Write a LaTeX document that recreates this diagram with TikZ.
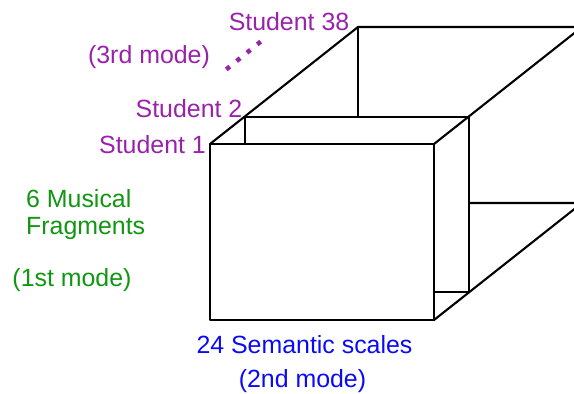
\documentclass[tikz,border=0pt]{standalone}
\usepackage{fontspec}
\setmainfont{Liberation Sans}
\definecolor{modepurple}{RGB}{153,34,170}
\definecolor{modegreen}{RGB}{17,150,17}
\definecolor{modeblue}{RGB}{10,10,245}
\begin{document}
\begin{tikzpicture}[x=1pt,y=-1pt,
  edge/.style={line width=2.1pt,line cap=round,line join=round},
  lbl/.style={inner sep=0pt,anchor=base,font=\fontsize{24.9}{27}\selectfont},
  stud/.style={lbl,text=modepurple},
  frag/.style={lbl,text=modegreen},
  scal/.style={lbl,text=modeblue}]
\useasboundingbox (0,0) rectangle (574,394);
\begin{scope}
\clip (0,0) rectangle (574,394);
% front slice
\coordinate (F1) at (210,144); \coordinate (F2) at (434,144);
\coordinate (F3) at (434,320); \coordinate (F4) at (210,320);
% second slice
\coordinate (S1) at (245,117); \coordinate (S2) at (469,117);
\coordinate (S3) at (469,292); \coordinate (S4) at (434,292);
% back slice
\coordinate (B1) at (358,27); \coordinate (B2) at (582,27);
\coordinate (B3) at (582,203); \coordinate (B4) at (469,203);
\coordinate (B5) at (358,117);
\draw[edge] (F1) -- (F2) -- (F3) -- (F4) -- cycle;
\draw[edge] (F1) -- (B1) -- (B2) -- (F2);
\draw[edge] (S1) -- (S2) -- (S3) -- (S4);
\draw[edge] (S1) -- (S1 |- F1);
\draw[edge] (B1) -- (B5);
\draw[edge] (F3) -- (B3) -- (B4);
\end{scope}
% dots for the third mode
\coordinate (D1) at (226.3,69.4); \coordinate (D2) at (260.7,41.6);
\draw[modepurple,line width=4.5pt,line cap=butt,dash pattern=on 4.5pt off 8.77pt] (D1) -- (D2);
% labels
\node[stud] (s38) at (289,30) {Student 38};
\node[stud] (m3) at (149,63) {(3rd mode)};
\node[stud] (s2) at (189,117) {Student 2};
\node[stud] (s1) at (152.5,153) {Student 1};
\node[frag,anchor=base west] (f1) at (26,207) {6 Musical};
\node[frag,anchor=base west] (f2) at (26,234) {Fragments};
\node[frag] (m1) at (72,286) {(1st mode)};
\node[scal] (sc) at (304.5,353) {24 Semantic scales};
\node[scal] (m2) at (302.5,387) {(2nd mode)};
\end{tikzpicture}
\end{document}
